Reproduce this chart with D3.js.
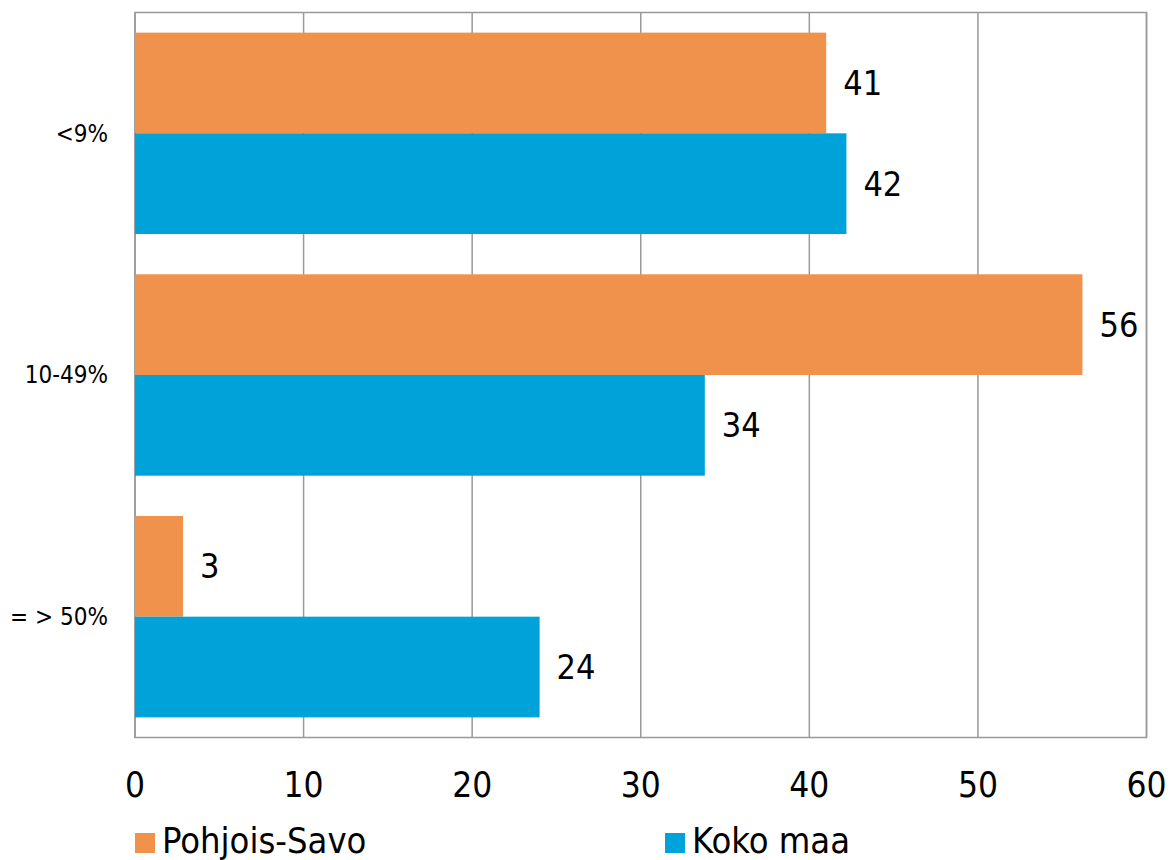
<!DOCTYPE html>
<html><head><meta charset="utf-8">
<script src="https://cdn.jsdelivr.net/npm/d3@7"></script>
<style>body{margin:0;background:#fff}svg{display:block}text{font-family:"Liberation Sans Narrow","DejaVu Sans Condensed",sans-serif;fill:#000}</style>
</head><body>
<svg id="c" width="1171" height="860"></svg>
<script>
const categories = ["<9%", "10-49%", "= > 50%"];
const seriesNames = ["Pohjois-Savo", "Koko maa"];
const pohjoisSavo = [41.0, 56.2, 2.85];
const kokoMaa = [42.2, 33.8, 24.0];
const xTicks = [0, 10, 20, 30, 40, 50, 60];
const colors = ["#F0924B", "#00A3D9"];

const svg = d3.select("#c");
const L = 135, R = 1146.5, T = 12.5, B = 737.5;
const x = d3.scaleLinear().domain([0, 60]).range([L, R]);
const y = d3.scaleBand().domain(categories).range([T, B]).paddingInner(0.1667).paddingOuter(0.0833);
const ys = d3.scaleBand().domain(seriesNames).range([0, y.bandwidth()]);

// gridlines
svg.append("g").selectAll("line").data(xTicks).join("line")
  .attr("x1", d => x(d)).attr("x2", d => x(d)).attr("y1", T).attr("y2", B)
  .attr("stroke", "#999").attr("stroke-width", 1.5);
svg.append("rect").attr("x", L).attr("y", T).attr("width", R - L).attr("height", B - T)
  .attr("fill", "none").attr("stroke", "#999").attr("stroke-width", 1.5);

const data = categories.map((c, i) => ({c, vals: [pohjoisSavo[i], kokoMaa[i]]}));
const g = svg.append("g").selectAll("g").data(data).join("g")
  .attr("transform", d => `translate(0,${y(d.c)})`);
g.selectAll("rect").data(d => d.vals.map((v, j) => ({v, s: seriesNames[j], j}))).join("rect")
  .attr("x", x(0)).attr("y", d => ys(d.s)).attr("width", d => x(d.v) - x(0)).attr("height", ys.bandwidth())
  .attr("fill", d => colors[d.j]);
g.selectAll("text.v").data(d => d.vals.map((v, j) => ({v, s: seriesNames[j], j}))).join("text")
  .attr("class", "v")
  .attr("x", d => x(d.v) + 17).attr("y", d => ys(d.s) + ys.bandwidth() / 2)
  .attr("dy", "0.35em").attr("font-size", 34)
  .text(d => d3.format(".0f")(d.v));

// category labels
svg.append("g").selectAll("text").data(categories).join("text")
  .attr("x", 108).attr("y", d => y(d) + y.bandwidth() / 2).attr("dy", "0.35em")
  .attr("text-anchor", "end").attr("font-size", 24).text(d => d);

// x axis labels
svg.append("g").selectAll("text").data(xTicks).join("text")
  .attr("x", d => x(d)).attr("y", 785).attr("dy", "0.35em")
  .attr("text-anchor", "middle").attr("font-size", 35).text(d => d);

// legend
const legX = [135, 665];
const lg = svg.append("g").selectAll("g").data(seriesNames).join("g")
  .attr("transform", (d, i) => `translate(${legX[i]},833)`);
lg.append("rect").attr("width", 20).attr("height", 20).attr("fill", (d, i) => colors[i]);
lg.append("text").attr("x", 27).attr("y", 20).attr("font-size", 36).text(d => d);
</script>
</body></html>
